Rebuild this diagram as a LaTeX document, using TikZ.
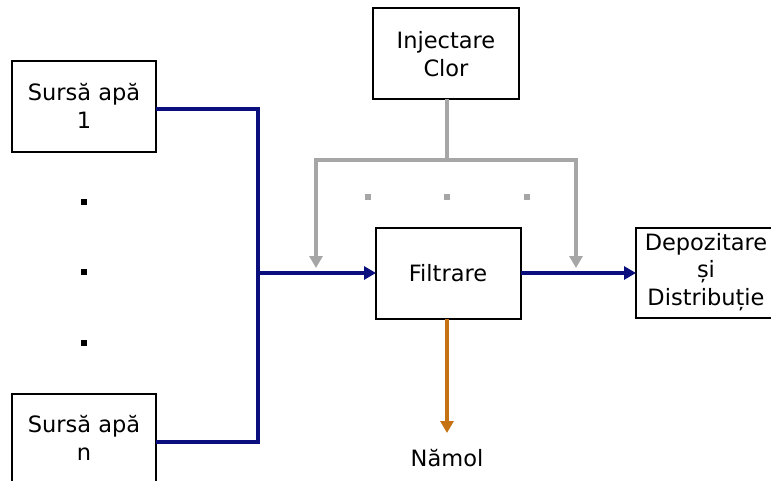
\documentclass[tikz,border=0pt]{standalone}
\usepackage{fontspec}
\setmainfont{DejaVu Sans}
\usetikzlibrary{arrows.meta}
\definecolor{flowblue}{RGB}{10,15,125}
\definecolor{chlgray}{RGB}{166,166,166}
\definecolor{sludge}{RGB}{196,114,20}
\begin{document}
\begin{tikzpicture}[x=1pt,y=-1pt,
  box/.style={draw=black,line width=2.4pt,fill=white},
  lbl/.style={font=\fontsize{22.5}{27.5}\selectfont,align=center,inner sep=0pt},
  blueflow/.style={draw=flowblue,line width=4pt},
  grayflow/.style={draw=chlgray,line width=4pt},
  mudflow/.style={draw=sludge,line width=4pt},
  tip/.style={-{Triangle[length=12pt,width=13pt]}},
  dotmark/.style={rectangle,inner sep=0pt,minimum size=5.5pt}
]
\useasboundingbox (0,0) rectangle (771,481);
% boxes
\draw[box] (12,61) rectangle (156,152);
\node[lbl] (s1) at (84,106) {Sursă apă\\1};
\coordinate (s1r) at (156,109);
\draw[box] (12,394) rectangle (156,490);
\node[lbl] (sn) at (84,438) {Sursă apă\\n};
\coordinate (snr) at (156,442);
\draw[box] (373,8) rectangle (519,99);
\node[lbl] (inj) at (446,54) {Injectare\\Clor};
\coordinate (injb) at (447,99);
\draw[box] (376,228) rectangle (521,319);
\node[lbl] (fil) at (448,273) {Filtrare};
\coordinate (fill) at (376,273);
\coordinate (filr) at (521,273);
\coordinate (filb) at (447,319);
\draw[box] (636,228) rectangle (790,318);
\node[lbl] (dep) at (706,272) {Depozitare\\și\\Distribuție};
\coordinate (depl) at (636,273);
\node[lbl] (nam) at (447,458) {Nămol};
% vertical dots
\node[dotmark,fill=black] (d1) at (84,202) {};
\node[dotmark,fill=black] (d2) at (84,272) {};
\node[dotmark,fill=black] (d3) at (84,343) {};
\node[dotmark,fill=chlgray] (g1) at (368,197) {};
\node[dotmark,fill=chlgray] (g2) at (447,197) {};
\node[dotmark,fill=chlgray] (g3) at (527,197) {};
% blue flows
\coordinate (jx) at (258,273);
\draw[blueflow] (s1r) -| (jx) |- (snr);
\draw[blueflow,tip] (jx) -- (fill);
\draw[blueflow,tip] (filr) -- (depl);
% chlorine
\coordinate (cj) at (447,160);
\coordinate (cl) at (316,268);
\coordinate (cr) at (576,268);
\draw[grayflow] (injb) -- (cj);
\draw[grayflow,tip] (cj) -| (cl);
\draw[grayflow,tip] (cj) -| (cr);
% sludge
\draw[mudflow,tip] (filb) -- (447,433);
\end{tikzpicture}
\end{document}
